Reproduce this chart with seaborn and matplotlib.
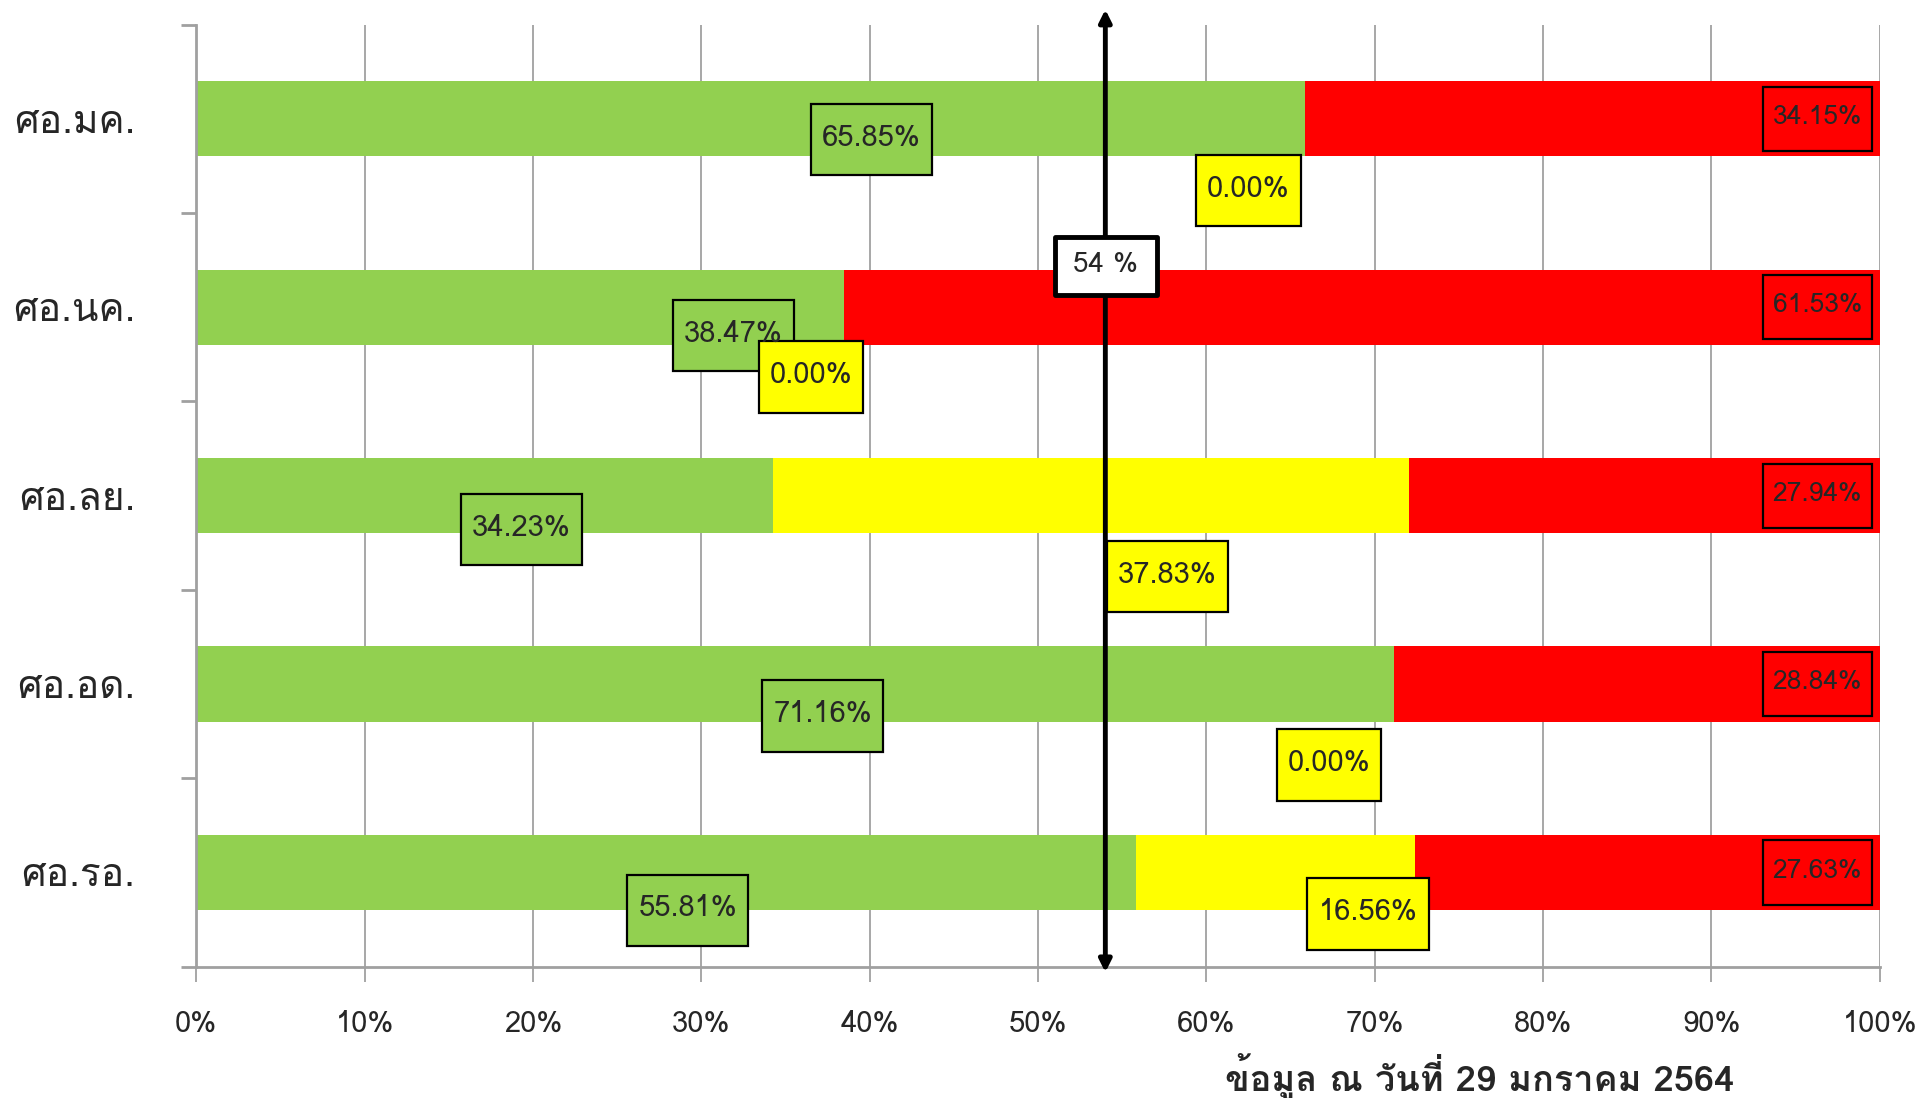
import numpy as np
import pandas as pd
import matplotlib
matplotlib.use("Agg")
import matplotlib.pyplot as plt
from matplotlib.patches import Rectangle
from matplotlib import font_manager
from matplotlib.ft2font import FT2Font
import seaborn as sns

# Data
centres = ["ศอ.มค.", "ศอ.นค.", "ศอ.ลย.", "ศอ.อด.", "ศอ.รอ."]
green = [65.85, 38.47, 34.23, 71.16, 55.81]
yellow = [0.00, 0.00, 37.83, 0.00, 16.56]
red = [34.15, 61.53, 27.94, 28.84, 27.63]
target = 54
x_ticks = [0, 10, 20, 30, 40, 50, 60, 70, 80, 90, 100]
footer = "ข้อมูล ณ วันที่ 29 มกราคม 2564"

# where the data labels sit in the original (dragged by hand in excel)
green_lab_x = [40.1, 31.9, 19.3, 37.2, 29.2]
green_lab_dy = [0.11, 0.15, 0.18, 0.17, 0.20]
yellow_lab_x = [62.5, 36.5, 57.7, 67.3, 69.6]
yellow_lab_dy = [0.38, 0.37, 0.43, 0.43, 0.22]
red_lab_x = 96.3

GREEN = "#92D050"
YELLOW = "#FFFF00"
RED = "#FF0000"
GRID = "#A0A0A0"


def find_thai_font():
    # look for any installed font that has thai glyphs
    found = []
    for f in font_manager.fontManager.ttflist:
        try:
            cmap = FT2Font(f.fname).get_charmap()
        except Exception:
            continue
        if 0x0E28 in cmap and 0x0E2D in cmap and 0x0E21 in cmap:
            found.append(f)
    if not found:
        return None
    found.sort(key=lambda f: (f.weight not in ("normal", 400), f.style != "normal"))
    return found[0].name


sns.set_style("white")
thai = find_thai_font()
families = [thai, "DejaVu Sans"] if thai else ["DejaVu Sans"]
plt.rcParams["font.family"] = families

df = pd.DataFrame({"centre": centres, "green": green, "yellow": yellow, "red": red})
df["gy"] = df["green"] + df["yellow"]
df["total"] = df["gy"] + df["red"]

fig = plt.figure(figsize=(19.24, 10.98), dpi=100)
ax = fig.add_axes([0.102, 0.1196, 0.875, 0.858])

# stacked bars drawn as overlapping cumulative totals
for col, colour in [("total", RED), ("gy", YELLOW), ("green", GREEN)]:
    sns.barplot(data=df, x=col, y="centre", order=centres, color=colour,
                orient="h", width=0.4, saturation=1, errorbar=None,
                linewidth=0, ax=ax)

ax.set_xlim(0, 100)
ax.set_ylim(4.5, -0.5)
ax.set_xticks(x_ticks)
ax.set_xticklabels([f"{t}%" for t in x_ticks], fontsize=21)
ax.set_yticks(range(len(centres)))
ax.set_yticklabels(centres, fontsize=28)
ax.set_yticks(np.arange(-0.5, len(centres)), minor=True)
ax.tick_params(axis="y", which="major", left=False, length=0, pad=44)
ax.tick_params(axis="y", which="minor", left=True, length=11, width=2,
               color=GRID)
ax.tick_params(axis="x", which="major", bottom=True, length=11, width=1.3,
               color=GRID, pad=20)
ax.set_xlabel("")
ax.set_ylabel("")
ax.set_axisbelow(True)
ax.grid(axis="x", color=GRID, lw=1.3)
ax.grid(axis="y", visible=False)
sns.despine(ax=ax, top=True, right=True)
for s in ["left", "bottom"]:
    ax.spines[s].set_color(GRID)
    ax.spines[s].set_linewidth(2)


def boxed(x, y, text, face, w, h, fs=21):
    ax.add_patch(Rectangle((x - w / 2, y - h / 2), w, h, facecolor=face,
                           edgecolor="black", lw=1.6, zorder=5))
    ax.text(x, y - 0.01, text, ha="center", va="center", fontsize=fs, zorder=6)


for i in range(len(centres)):
    boxed(green_lab_x[i], i + green_lab_dy[i], f"{green[i]:.2f}%", GREEN,
          7.2, 0.378)
    yw = 6.2 if yellow[i] < 10 else 7.2
    boxed(yellow_lab_x[i], i + yellow_lab_dy[i], f"{yellow[i]:.2f}%", YELLOW,
          yw, 0.378)
    boxed(red_lab_x, i, f"{red[i]:.2f}%", RED, 6.5, 0.34, fs=19)

# target line with arrows at both ends
ax.annotate("", xy=(target, -0.58), xytext=(target, 4.53),
            arrowprops=dict(arrowstyle="<|-|>", color="black", lw=3.5,
                            mutation_scale=18, shrinkA=0, shrinkB=0),
            annotation_clip=False, zorder=7)
ax.add_patch(Rectangle((target - 3.0, 0.78 - 0.155), 6.05, 0.31,
                       facecolor="white", edgecolor="black", lw=3.5,
                       joinstyle="round", zorder=8))
ax.text(target, 0.775, f"{target} %", ha="center", va="center",
        fontsize=20, zorder=9)

fig.text(0.769, 0.02, footer, ha="center", va="center", fontsize=26,
         fontweight="bold")

fig.savefig("out.png", dpi=100)
